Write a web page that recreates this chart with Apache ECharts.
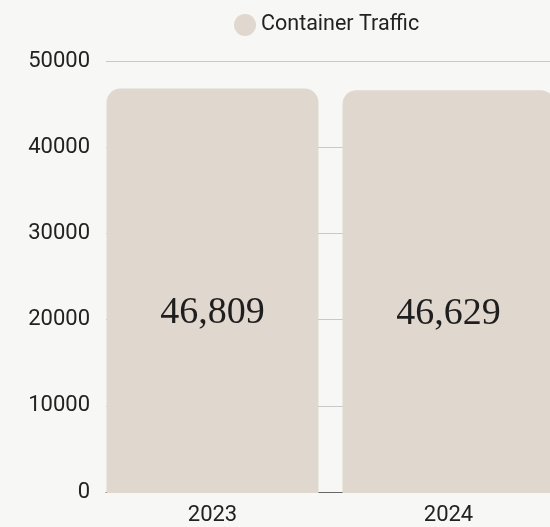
<!DOCTYPE html>
<html>
<head>
<meta charset="utf-8">
<script src="https://cdn.jsdelivr.net/npm/echarts@6/dist/echarts.min.js"></script>
<style>
html,body{margin:0;padding:0;background:#f7f7f5;}
#chart{width:550px;height:527px;}
</style>
</head>
<body>
<div id="chart"></div>
<script>
const categories = ['2023', '2024'];
const seriesName = 'Container Traffic';
const trafficValues = [46809, 46629];
const yTicks = [0, 10000, 20000, 30000, 40000, 50000];

const chart = echarts.init(document.getElementById('chart'));
const sansFont = 'Roboto';
const option = {
  backgroundColor: '#f7f7f5',
  animation: false,
  legend: {
    data: [seriesName],
    left: 229,
    top: 9,
    icon: 'circle',
    itemWidth: 22,
    itemHeight: 22,
    itemGap: 10,
    textStyle: { fontFamily: sansFont, fontSize: 21.5, color: '#222' }
  },
  grid: [
    { left: 106, right: 0, top: 61, bottom: 35, outerBoundsMode: 'none', containLabel: false },
    { left: 94.5, width: 472, top: 61, bottom: 34, outerBoundsMode: 'none', containLabel: false }
  ],
  xAxis: [
    {
      gridIndex: 0, type: 'category', data: categories, z: 0,
      axisLabel: { show: false }, axisTick: { show: false },
      axisLine: { show: true, lineStyle: { color: '#666', width: 1 } },
      splitLine: { show: false }
    },
    {
      gridIndex: 1, type: 'category', data: categories,
      axisLine: { show: false }, axisTick: { show: false },
      axisLabel: { fontFamily: sansFont, fontSize: 22, color: '#222', margin: 11 }
    }
  ],
  yAxis: [
    {
      gridIndex: 0, type: 'value', min: yTicks[0], max: yTicks[yTicks.length - 1], interval: 10000,
      axisLine: { show: false }, axisTick: { show: false },
      axisLabel: { fontFamily: sansFont, fontSize: 22, color: '#222', margin: 16, formatter: v => String(v) },
      splitLine: { show: true, lineStyle: { color: '#c8c8c8', width: 1 } }
    },
    {
      gridIndex: 1, type: 'value', min: yTicks[0], max: yTicks[yTicks.length - 1], interval: 10000,
      show: false
    }
  ],
  series: [{
    name: seriesName,
    type: 'bar',
    xAxisIndex: 1,
    yAxisIndex: 1,
    z: 5,
    data: trafficValues,
    barWidth: 212,
    itemStyle: { color: '#e0d7ce', borderRadius: [14, 14, 0, 0] },
    label: {
      show: true,
      position: 'inside',
      offset: [0, 22],
      fontFamily: 'Liberation Serif',
      fontSize: 38,
      color: '#1e1e1e',
      formatter: p => p.value.toLocaleString('en-US')
    }
  }]
};
chart.setOption(option);
</script>
</body>
</html>
